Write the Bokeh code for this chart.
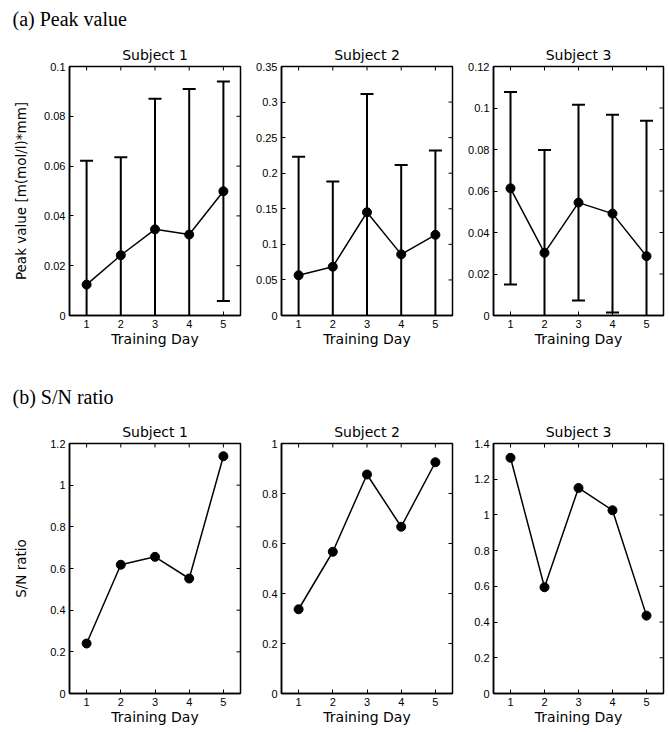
import math
from bokeh.plotting import figure
from bokeh.models import LinearAxis, FixedTicker, CustomJSTickFormatter, Range1d
from bokeh.layouts import column, row
from bokeh.embed import file_html
from bokeh.resources import INLINE
from bokeh.core.properties import value

# ---------------- data ----------------
days = [1, 2, 3, 4, 5]
subjects = ["Subject 1", "Subject 2", "Subject 3"]

# (a) Peak value: mean and error (half-length of error bar)
peak_mean_s1 = [0.0124, 0.0242, 0.0346, 0.0325, 0.0499]
peak_err_s1 = [0.0497, 0.0394, 0.0524, 0.0585, 0.0441]
peak_mean_s2 = [0.0565, 0.0686, 0.1451, 0.0859, 0.1134]
peak_err_s2 = [0.1666, 0.1199, 0.1661, 0.1255, 0.1185]
peak_mean_s3 = [0.0613, 0.0302, 0.0544, 0.0491, 0.0286]
peak_err_s3 = [0.0464, 0.0496, 0.0472, 0.0477, 0.0652]

# (b) S/N ratio
sn_s1 = [0.240, 0.618, 0.656, 0.552, 1.139]
sn_s2 = [0.337, 0.567, 0.876, 0.667, 0.925]
sn_s3 = [1.320, 0.595, 1.151, 1.026, 0.436]

peak_yticks_s1 = [0, 0.02, 0.04, 0.06, 0.08, 0.1]
peak_yticks_s2 = [0, 0.05, 0.1, 0.15, 0.2, 0.25, 0.3, 0.35]
peak_yticks_s3 = [0, 0.02, 0.04, 0.06, 0.08, 0.1, 0.12]
sn_yticks_s1 = [0, 0.2, 0.4, 0.6, 0.8, 1.0, 1.2]
sn_yticks_s2 = [0, 0.2, 0.4, 0.6, 0.8, 1.0]
sn_yticks_s3 = [0, 0.2, 0.4, 0.6, 0.8, 1.0, 1.2, 1.4]

x_label = "Training Day"
peak_ylabel = "Peak value [m(mol/l)*mm]"
sn_ylabel = "S/N ratio"
section_a = "(a) Peak value"
section_b = "(b) S/N ratio"

# ---------------- styling ----------------
SANS = "DejaVu Sans"
TICKF = "Liberation Sans"
W_TOTAL = 667
X_MIN, X_MAX = 0.5, 5.5


def fmt():
    return CustomJSTickFormatter(code="return String(parseFloat(tick.toPrecision(6)));")


def style_axis(ax):
    ax.axis_line_width = 1.5
    ax.axis_line_color = "black"
    ax.major_tick_in = 4
    ax.major_tick_out = 0
    ax.major_tick_line_width = 1
    ax.minor_tick_line_color = None
    ax.major_label_text_font = TICKF
    ax.major_label_text_color = "black"
    ax.major_label_text_font_size = "11px"
    ax.major_label_standoff = 4
    ax.axis_label_text_font = SANS
    ax.axis_label_text_font_style = "normal"
    ax.axis_label_text_color = "black"


def panel(title, ymax, yticks, width, bl, br, height, bt, bb,
          ylabel=None, ylabel_standoff=12, xlabel_standoff=0):
    p = figure(width=width, height=height,
               x_range=Range1d(X_MIN, X_MAX), y_range=Range1d(0, ymax),
               output_backend="svg", toolbar_location=None,
               min_border_left=bl, min_border_right=br,
               min_border_top=bt, min_border_bottom=bb,
               x_axis_type=None, y_axis_type=None, title=title)
    p.outline_line_color = "black"
    p.outline_line_width = 1.5
    p.background_fill_color = "white"
    p.border_fill_color = "white"
    p.title.align = "center"
    p.title.text_font = SANS
    p.title.text_font_size = "14px"
    p.title.text_font_style = "normal"
    p.title.text_color = "black"
    p.title.standoff = 7

    xb = LinearAxis(ticker=FixedTicker(ticks=days), formatter=fmt())
    style_axis(xb)
    xb.axis_label = x_label
    xb.axis_label_text_font_size = "14px"
    xb.axis_label_standoff = xlabel_standoff
    p.add_layout(xb, "below")

    yl = LinearAxis(ticker=FixedTicker(ticks=yticks), formatter=fmt())
    style_axis(yl)
    if ylabel:
        yl.axis_label = ylabel
        yl.axis_label_text_font_size = "13.5px"
        yl.axis_label_standoff = ylabel_standoff
    p.add_layout(yl, "left")

    # inward ticks on the top and right edges (half of each dash is clipped by the frame)
    p.scatter([X_MAX] * len(yticks), yticks, marker="dash", size=8,
              line_color="black", line_width=1)
    p.scatter(days, [ymax] * len(days), marker="dash", angle=math.pi / 2, size=8,
              line_color="black", line_width=1)
    return p


def add_err_series(p, mean, err):
    lower = [m - e for m, e in zip(mean, err)]
    upper = [m + e for m, e in zip(mean, err)]
    p.segment(x0=days, y0=lower, x1=days, y1=upper, line_color="black", line_width=2)
    p.scatter(days, upper, marker="dash", size=13, line_color="black", line_width=2)
    p.scatter(days, lower, marker="dash", size=13, line_color="black", line_width=2)
    p.line(days, mean, line_color="black", line_width=1.5)
    p.scatter(days, mean, size=9, fill_color="black", line_color="black")


def add_series(p, vals):
    p.line(days, vals, line_color="black", line_width=1.5)
    p.scatter(days, vals, size=9, fill_color="black", line_color="black")


def header(text, height, baseline_from_top):
    h = figure(width=W_TOTAL, height=height, x_range=Range1d(0, W_TOTAL),
               y_range=Range1d(0, height), output_backend="svg",
               toolbar_location=None, min_border=0,
               x_axis_type=None, y_axis_type=None)
    h.outline_line_color = None
    h.grid.visible = False
    h.text(x=[12], y=[height - baseline_from_top], text=[text],
           text_font=value("Liberation Serif"), text_font_size="20px",
           text_baseline="alphabetic", text_color="black")
    return h


# column geometry: (width, left border, right border)
cols = [(253, 69, 13), (212, 28, 13), (202, 28, 4)]

# ---- row (a) ----
TOP_H = 324
a_means = [peak_mean_s1, peak_mean_s2, peak_mean_s3]
a_errs = [peak_err_s1, peak_err_s2, peak_err_s3]
a_ticks = [peak_yticks_s1, peak_yticks_s2, peak_yticks_s3]
a_figs = []
for i in range(3):
    w, bl, br = cols[i]
    p = panel(subjects[i], a_ticks[i][-1], a_ticks[i], w, bl, br, TOP_H, 28, 47,
              ylabel=peak_ylabel if i == 0 else None, ylabel_standoff=12)
    add_err_series(p, a_means[i], a_errs[i])
    a_figs.append(p)

# ---- row (b) ----
BOT_H = 320
b_vals = [sn_s1, sn_s2, sn_s3]
b_ticks = [sn_yticks_s1, sn_yticks_s2, sn_yticks_s3]
b_figs = []
for i in range(3):
    w, bl, br = cols[i]
    p = panel(subjects[i], b_ticks[i][-1], b_ticks[i], w, bl, br, BOT_H, 33, 37,
              ylabel=sn_ylabel if i == 0 else None, ylabel_standoff=18)
    add_series(p, b_vals[i])
    b_figs.append(p)

layout = column(
    header(section_a, 38, 18),
    row(*a_figs),
    header(section_b, 48, 34),
    row(*b_figs),
)

open("out.html", "w").write(file_html(layout, INLINE))
